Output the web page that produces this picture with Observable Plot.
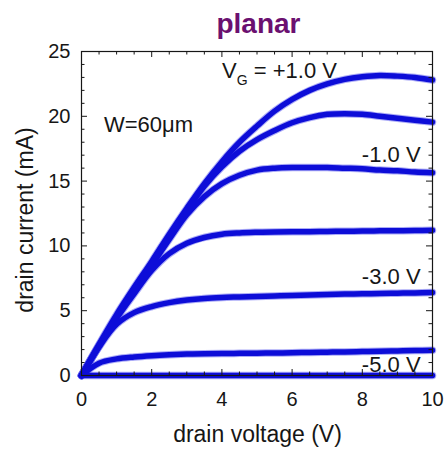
<!DOCTYPE html>
<html><head><meta charset="utf-8">
<script src="https://cdn.jsdelivr.net/npm/d3@7"></script>
<script src="https://cdn.jsdelivr.net/npm/@observablehq/plot@0.6"></script>
<style>body{margin:0;background:#fff} svg{display:block}</style>
</head><body><div id="chart"></div>
<script>
// drain voltage grid (V)
const drainVoltage = [0,0.5,1,1.5,2,2.5,3,3.5,4,4.5,5,5.5,6,6.5,7,7.5,8,8.5,9,9.5,10];
// drain current (mA) per gate voltage
const gateVoltages = ["+1.0 V","0 V","-1.0 V","-2.0 V","-3.0 V","-4.0 V","-5.0 V"];
const idVgP1 = [0,2.4,4.7,6.8,8.8,10.9,12.9,14.8,16.5,18.0,19.25,20.4,21.3,22.0,22.5,22.85,23.05,23.15,23.1,23.0,22.8];
const idVg0  = [0,2.35,4.6,6.65,8.65,10.75,12.75,14.6,16.1,17.3,18.2,18.9,19.5,19.9,20.15,20.2,20.15,20.0,19.85,19.7,19.55];
const idVgM1 = [0,2.3,4.5,6.5,8.5,10.5,12.4,13.8,14.8,15.45,15.85,16.0,16.05,16.05,16.05,16.0,15.95,15.85,15.8,15.7,15.65];
const idVgM2 = [0,2.25,4.4,6.3,8.1,9.4,10.2,10.65,10.9,11.0,11.05,11.08,11.1,11.1,11.12,11.13,11.15,11.16,11.17,11.18,11.2];
const idVgM3 = [0,2.2,3.95,4.85,5.32,5.62,5.82,5.95,6.02,6.06,6.1,6.14,6.18,6.21,6.25,6.28,6.3,6.33,6.35,6.37,6.4];
const idVgM4 = [0,0.95,1.28,1.43,1.53,1.6,1.65,1.68,1.7,1.71,1.72,1.74,1.75,1.78,1.8,1.82,1.85,1.88,1.9,1.92,1.95];
const idVgM5 = [0,0,0,0,0,0,0,0,0,0,0,0,0,0,0,0,0,0,0,0,0];

// ticks
const xMajorTicks = [0,2,4,6,8,10];
const xMinorTicks = [0.5,1,1.5,2.5,3,3.5,4.5,5,5.5,6.5,7,7.5,8.5,9,9.5];
const yMajorTicks = [0,5,10,15,20,25];
const yMinorTicks = [1,2,3,4,6,7,8,9,11,12,13,14,16,17,18,19,21,22,23,24];

// annotations (data coordinates)
const curveLabels = ["-1.0 V","-3.0 V","-5.0 V"];
const curveLabelV = [9.66,9.66,9.66];
const curveLabelI = [16.46,7.08,0.25];
const widthLabel = "W=60\u03bcm";
const widthLabelV = 0.64, widthLabelI = 18.77;
const vgLabelV = 4.02, vgLabelI = 22.9;

const title = "planar";
const xLabel = "drain voltage (V)";
const yLabel = "drain current (mA)";

const allCurves = [idVgP1, idVg0, idVgM1, idVgM2, idVgM3, idVgM4, idVgM5];
const rows = allCurves.flatMap((ids, k) => drainVoltage.map((v, i) => ({vg: gateVoltages[k], vd: v, id: ids[i]})));
const labelRows = curveLabels.map((t, i) => ({t, v: curveLabelV[i], i: curveLabelI[i]}));

const W = 448, H = 452, mL = 81, mR = 16, mT = 51, mB = 77;
const pw = W - mL - mR, ph = H - mT - mB;
const font = "'Liberation Sans', Arial, Helvetica, sans-serif";
const ink = "#161616";
const blue = "#0d0dd8";

const plot = Plot.plot({
  width: W, height: H, marginLeft: mL, marginRight: mR, marginTop: mT, marginBottom: mB,
  style: {fontFamily: font, color: ink, background: "#fff", overflow: "visible"},
  x: {domain: [0, 10]},
  y: {domain: [0, 25]},
  marks: [
    Plot.line(rows, {x: "vd", y: "id", z: "vg", stroke: "#5a5af0", strokeOpacity: 0.5, strokeWidth: 7.5, curve: "catmull-rom", strokeLinecap: "round", strokeLinejoin: "round"}),
    Plot.line(rows, {x: "vd", y: "id", z: "vg", stroke: blue, strokeWidth: 5.5, curve: "catmull-rom", strokeLinecap: "round", strokeLinejoin: "round"}),
    Plot.frame({stroke: ink, strokeWidth: 1.2}),
    Plot.axisX(xMajorTicks, {tickSize: 0, tickPadding: 16, fontSize: 20, label: null, tickFormat: d => String(d)}),
    Plot.axisY(yMajorTicks, {tickSize: 0, tickPadding: 11, fontSize: 20, label: null, tickFormat: d => String(d)}),
    Plot.tickX(xMajorTicks, {x: d => d, insetTop: ph - 6, stroke: ink}),
    Plot.tickX(xMajorTicks, {x: d => d, insetBottom: ph - 6, stroke: ink}),
    Plot.tickX(xMinorTicks, {x: d => d, insetTop: ph - 3.5, stroke: ink}),
    Plot.tickX(xMinorTicks, {x: d => d, insetBottom: ph - 3.5, stroke: ink}),
    Plot.tickY(yMajorTicks, {y: d => d, insetRight: pw - 6, stroke: ink}),
    Plot.tickY(yMajorTicks, {y: d => d, insetLeft: pw - 6, stroke: ink}),
    Plot.tickY(yMinorTicks, {y: d => d, insetRight: pw - 3.5, stroke: ink}),
    Plot.tickY(yMinorTicks, {y: d => d, insetLeft: pw - 3.5, stroke: ink}),
    Plot.text(labelRows, {x: "v", y: "i", text: "t", textAnchor: "end", lineAnchor: "bottom", fontSize: 22, fill: ink}),
    Plot.text([widthLabel], {x: () => widthLabelV, y: () => widthLabelI, text: d => d, textAnchor: "start", lineAnchor: "bottom", fontSize: 22, fill: ink})
  ]
});

const svg = d3.select(plot);
const xs = plot.scale("x"), ys = plot.scale("y");
const cx = (xs.range[0] + xs.range[1]) / 2, cy = (ys.range[0] + ys.range[1]) / 2;

svg.append("text").attr("x", cx + 2).attr("y", 33)
  .attr("text-anchor", "middle").attr("font-size", 28).attr("font-weight", "bold")
  .attr("fill", "#6b1070").attr("font-family", font).text(title);

svg.append("text").attr("x", cx + 1).attr("y", H - 10)
  .attr("text-anchor", "middle").attr("font-size", 23).attr("fill", ink)
  .attr("font-family", font).text(xLabel);

svg.append("text").attr("transform", `translate(33,${cy + 7}) rotate(-90)`)
  .attr("text-anchor", "middle").attr("font-size", 23).attr("fill", ink)
  .attr("font-family", font).text(yLabel);

const vg = svg.append("text").attr("x", xs.apply(vgLabelV)).attr("y", ys.apply(vgLabelI))
  .attr("text-anchor", "start")
  .attr("font-size", 22).attr("fill", ink).attr("font-family", font).style("white-space", "pre");
vg.append("tspan").text("V");
vg.append("tspan").attr("font-size", 14).attr("dy", 7).text("G");
vg.append("tspan").attr("dy", -7).text(" = +1.0 V");

document.getElementById("chart").appendChild(plot);
</script>
</body></html>
